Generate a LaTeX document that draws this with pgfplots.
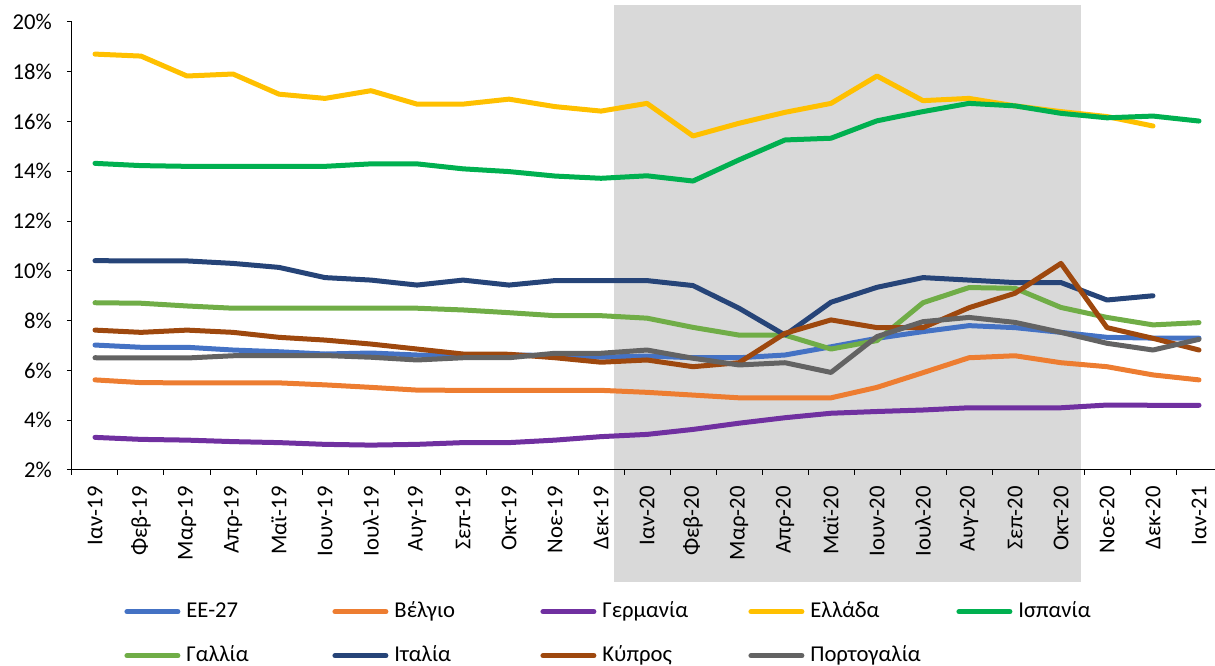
\documentclass[border=0pt]{standalone}
\usepackage{fontspec}
\setmainfont{Carlito}
\usepackage{pgfplots}
\pgfplotsset{compat=1.18}
\definecolor{cEU}{HTML}{4472C4}
\definecolor{cBE}{HTML}{ED7D31}
\definecolor{cDE}{HTML}{7030A0}
\definecolor{cGR}{HTML}{FFC000}
\definecolor{cES}{HTML}{00B050}
\definecolor{cFR}{HTML}{70AD47}
\definecolor{cIT}{HTML}{264478}
\definecolor{cCY}{HTML}{9E480E}
\definecolor{cPT}{HTML}{636363}
\definecolor{cShade}{HTML}{D9D9D9}
\newcommand{\lab}[1]{\makebox[109.5pt][l]{#1}}
\begin{document}
\begin{tikzpicture}
\begin{axis}[
  set layers, clip=false,
  at={(0pt,0pt)}, anchor=south west,
  scale only axis, width=862.5pt, height=336pt,
  xmin=-0.5, xmax=24.5, ymin=2, ymax=20,
  axis x line*=bottom, axis y line*=left,
  axis line style={-, line width=0.75pt, black},
  tick align=outside, major tick length=3.75pt,
  tick style={black, line width=0.75pt},
  xtick={-0.5,0.5,...,24.5},
  x tick label as interval,
  xticklabels={Ιαν-19,Φεβ-19,Μαρ-19,Απρ-19,Μαϊ-19,Ιουν-19,Ιουλ-19,Αυγ-19,Σεπ-19,Οκτ-19,Νοε-19,Δεκ-19,Ιαν-20,Φεβ-20,Μαρ-20,Απρ-20,Μαϊ-20,Ιουν-20,Ιουλ-20,Αυγ-20,Σεπ-20,Οκτ-20,Νοε-20,Δεκ-20,Ιαν-21},
  xticklabel style={yshift=-5pt, rotate=90, anchor=east},
  ytick={2,4,...,20},
  yticklabels={2\%,4\%,6\%,8\%,10\%,12\%,14\%,16\%,18\%,20\%},
  yticklabel style={xshift=-7.8pt},
  every tick label/.append style={font=\fontsize{17}{20}\selectfont},
  legend image code/.code={\draw[#1, line width=3.75pt, line cap=round] (0pt,0pt) -- (38.25pt,0pt);},
  legend cell align=left,
  legend style={at={(0.0456,-0.2918)}, anchor=north west, draw=none, fill=none,
    inner sep=0pt, outer sep=0pt, legend columns=5,
    font=\fontsize{17}{20}\selectfont,
    nodes={inner sep=0pt, text height=12.5pt, text depth=4pt},
    row sep=16.5pt,
    /tikz/every odd column/.append style={column sep=4.5pt},
    /tikz/every even column/.append style={column sep=0pt}},
  every axis plot/.append style={line width=3.75pt, line join=round, line cap=round},
]
\begin{pgfonlayer}{axis background}
\fill[cShade] (axis cs:11.28,20.68) rectangle (axis cs:21.43,-2.5);
\end{pgfonlayer}

\addplot[cEU] coordinates {(0,7.02)(1,6.93)(2,6.93)(3,6.82)(4,6.75)(5,6.66)(6,6.7)(7,6.62)(8,6.62)(9,6.62)(10,6.6)(11,6.53)(12,6.58)(13,6.51)(14,6.51)(15,6.62)(16,6.95)(17,7.29)(18,7.56)(19,7.8)(20,7.72)(21,7.53)(22,7.33)(23,7.3)(24,7.3)};
\addlegendentry{\lab{ΕΕ-27}}
\addplot[cBE] coordinates {(0,5.62)(1,5.51)(2,5.5)(3,5.5)(4,5.5)(5,5.42)(6,5.32)(7,5.21)(8,5.2)(9,5.2)(10,5.2)(11,5.2)(12,5.12)(13,5.01)(14,4.9)(15,4.9)(16,4.9)(17,5.32)(18,5.91)(19,6.51)(20,6.59)(21,6.31)(22,6.15)(23,5.82)(24,5.62)};
\addlegendentry{\lab{Βέλγιο}}
\addplot[cDE] coordinates {(0,3.31)(1,3.23)(2,3.2)(3,3.14)(4,3.1)(5,3.03)(6,3.0)(7,3.03)(8,3.1)(9,3.1)(10,3.2)(11,3.34)(12,3.43)(13,3.63)(14,3.88)(15,4.1)(16,4.28)(17,4.35)(18,4.41)(19,4.5)(20,4.5)(21,4.5)(22,4.61)(23,4.6)(24,4.6)};
\addlegendentry{\lab{Γερμανία}}
\addplot[cGR] coordinates {(0,18.71)(1,18.63)(2,17.83)(3,17.91)(4,17.1)(5,16.93)(6,17.24)(7,16.7)(8,16.7)(9,16.9)(10,16.6)(11,16.42)(12,16.73)(13,15.42)(14,15.93)(15,16.37)(16,16.73)(17,17.83)(18,16.84)(19,16.93)(20,16.63)(21,16.4)(22,16.2)(23,15.82)};
\addlegendentry{\lab{Ελλάδα}}
\addplot[cES] coordinates {(0,14.32)(1,14.23)(2,14.2)(3,14.2)(4,14.2)(5,14.2)(6,14.3)(7,14.3)(8,14.1)(9,13.99)(10,13.81)(11,13.72)(12,13.82)(13,13.61)(14,14.46)(15,15.26)(16,15.33)(17,16.03)(18,16.4)(19,16.73)(20,16.63)(21,16.33)(22,16.15)(23,16.22)(24,16.02)};
\addlegendentry{\lab{Ισπανία}}
\addplot[cFR] coordinates {(0,8.72)(1,8.7)(2,8.59)(3,8.5)(4,8.5)(5,8.5)(6,8.5)(7,8.5)(8,8.43)(9,8.32)(10,8.2)(11,8.2)(12,8.1)(13,7.73)(14,7.42)(15,7.42)(16,6.86)(17,7.2)(18,8.72)(19,9.33)(20,9.3)(21,8.53)(22,8.13)(23,7.83)(24,7.92)};
\addlegendentry{\lab{Γαλλία}}
\addplot[cIT] coordinates {(0,10.41)(1,10.4)(2,10.4)(3,10.3)(4,10.14)(5,9.73)(6,9.63)(7,9.43)(8,9.63)(9,9.43)(10,9.61)(11,9.61)(12,9.61)(13,9.41)(14,8.5)(15,7.42)(16,8.74)(17,9.34)(18,9.73)(19,9.63)(20,9.53)(21,9.53)(22,8.83)(23,9.0)};
\addlegendentry{\lab{Ιταλία}}
\addplot[cCY] coordinates {(0,7.62)(1,7.53)(2,7.62)(3,7.53)(4,7.33)(5,7.22)(6,7.06)(7,6.86)(8,6.66)(9,6.65)(10,6.51)(11,6.33)(12,6.42)(13,6.15)(14,6.31)(15,7.49)(16,8.03)(17,7.72)(18,7.72)(19,8.52)(20,9.1)(21,10.3)(22,7.72)(23,7.29)(24,6.82)};
\addlegendentry{\lab{Κύπρος}}
\addplot[cPT] coordinates {(0,6.51)(1,6.5)(2,6.5)(3,6.59)(4,6.6)(5,6.6)(6,6.53)(7,6.42)(8,6.51)(9,6.51)(10,6.69)(11,6.69)(12,6.82)(13,6.49)(14,6.22)(15,6.31)(16,5.92)(17,7.36)(18,7.96)(19,8.13)(20,7.93)(21,7.53)(22,7.09)(23,6.82)(24,7.25)};
\addlegendentry{\lab{Πορτογαλία}}
\end{axis}
\pgfresetboundingbox
\useasboundingbox (-54pt,-147pt) rectangle (857.25pt,352.5pt);
\end{tikzpicture}
\end{document}
